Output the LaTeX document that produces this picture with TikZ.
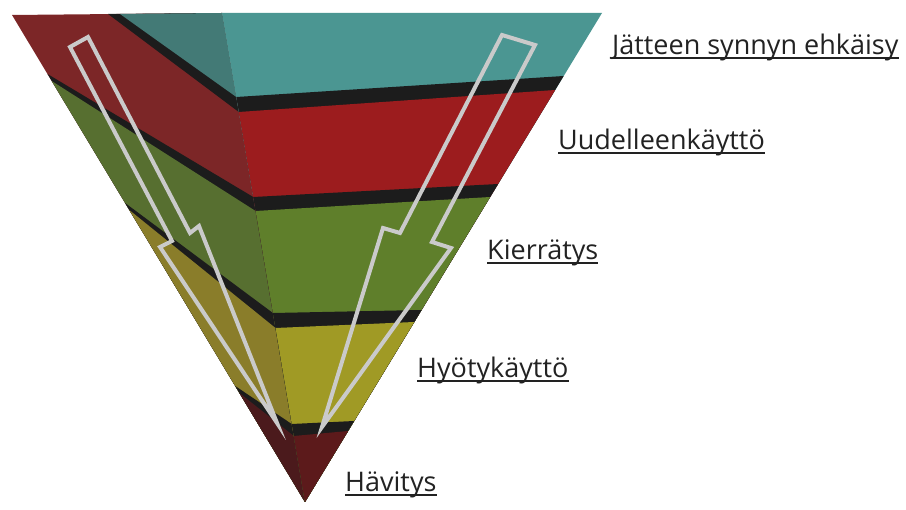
\documentclass[tikz,border=0pt]{standalone}
\usepackage{fontspec}
\setmainfont{Open Sans}
\usepackage{xcolor}
\usetikzlibrary{calc}

\definecolor{tealL}{HTML}{437A76}
\definecolor{tealR}{HTML}{4B9692}
\definecolor{redL}{HTML}{7C2627}
\definecolor{redR}{HTML}{9C1C1E}
\definecolor{greenL}{HTML}{576F30}
\definecolor{greenR}{HTML}{5F7F2B}
\definecolor{yellowL}{HTML}{8A7D2A}
\definecolor{yellowR}{HTML}{A09A25}
\definecolor{darkL}{HTML}{4B1A1C}
\definecolor{darkR}{HTML}{5C1A1B}
\definecolor{bandblack}{HTML}{1C1C1C}
\definecolor{boltgrey}{HTML}{CACACA}
\definecolor{labeltext}{HTML}{222222}

\begin{document}
\begin{tikzpicture}[x=1pt,y=-1pt,
    bolt/.style={draw=boltgrey,line width=4pt,line join=miter},
    lvl/.style={anchor=base west,inner sep=0pt,text=labeltext,
                font=\fontsize{27}{32}\selectfont},
    uline/.style={draw=labeltext,line width=1.5pt}]

\useasboundingbox (0,0) rectangle (906,510);

% corners of the two faces
\coordinate (TL) at (12,15);
\coordinate (R0) at (222,13);
\coordinate (TR) at (602,13);
\coordinate (A) at (305,502);

% left face
\fill[redL] (TL) -- (R0) -- (A) -- cycle;
\fill[bandblack] (108,14) -- (R0) -- (238.8,112) -- cycle;
\fill[tealL] (120,14) -- (R0) -- (236.3,97) -- cycle;
\fill[bandblack] (47.5,74) -- (253.2,197) -- (A) -- cycle;
\fill[greenL] (51.7,81) -- (255.6,211) -- (A) -- cycle;
\fill[bandblack] (125.1,203) -- (272.9,313) -- (A) -- cycle;
\fill[yellowL] (129.3,210) -- (275.5,328) -- (A) -- cycle;
\fill[bandblack] (235.2,386) -- (291.7,424) -- (A) -- cycle;
\fill[darkL] (239.4,393) -- (293.8,436) -- (A) -- cycle;

% right face
\fill[tealR] (R0) -- (TR) -- (A) -- cycle;
\fill[bandblack] (236.3,97) -- (563.7,76) -- (A) -- cycle;
\fill[redR] (238.8,112) -- (555.2,90) -- (A) -- cycle;
\fill[bandblack] (253.2,197) -- (498.1,184) -- (A) -- cycle;
\fill[greenR] (255.6,211) -- (490.2,197) -- (A) -- cycle;
\fill[bandblack] (272.9,313) -- (421.6,310) -- (A) -- cycle;
\fill[yellowR] (275.5,328) -- (414.3,322) -- (A) -- cycle;
\fill[bandblack] (291.7,424) -- (354.2,421) -- (A) -- cycle;
\fill[darkR] (293.8,436) -- (348.1,431) -- (A) -- cycle;

% lightning arrows
\draw[bolt] (70,47) -- (88,37) -- (190,233) -- (199,226) -- (277,423)
    -- (160,247) -- (172,241) -- cycle;
\draw[bolt] (502,35) -- (535,45) -- (432,242) -- (451,248) -- (322,427)
    -- (383,228) -- (400,233) -- cycle;

% levels
\node[lvl] (jate) at (612,55) {Jätteen synnyn ehkäisy};
\node[lvl] (uudel) at (558,150) {Uudelleenkäyttö};
\node[lvl] (kierr) at (487,260) {Kierrätys};
\node[lvl] (hyoty) at (417,378) {Hyötykäyttö};
\node[lvl] (havit) at (345,492) {Hävitys};

\draw[uline] ([yshift=-3pt]jate.base west) -- ([yshift=-3pt]jate.base east);
\draw[uline] ([yshift=-3pt]uudel.base west) -- ([yshift=-3pt]uudel.base east);
\draw[uline] ([yshift=-3pt]kierr.base west) -- ([yshift=-3pt]kierr.base east);
\draw[uline] ([yshift=-3pt]hyoty.base west) -- ([yshift=-3pt]hyoty.base east);
\draw[uline] ([yshift=-3pt]havit.base west) -- ([yshift=-3pt]havit.base east);
\end{tikzpicture}
\end{document}
